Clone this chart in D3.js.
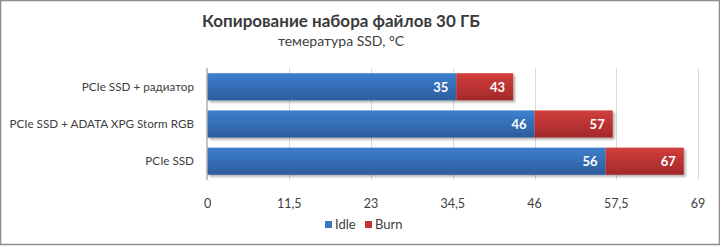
<!DOCTYPE html>
<html>
<head>
<meta charset="utf-8">
<script src="https://cdn.jsdelivr.net/npm/d3@7"></script>
<style>
  body { margin: 0; background: #fff; }
  svg { font-family: Lato, "Open Sans", sans-serif; }
</style>
</head>
<body>
<div id="graph"></div>
<script>
// chart data
var categories = ["PCIe SSD + радиатор", "PCIe SSD + ADATA XPG Storm RGB", "PCIe SSD"];
var idle = [35, 46, 56];
var burn = [43, 57, 67];
var ticks = [0, 11.5, 23, 34.5, 46, 57.5, 69];
var seriesNames = ["Idle", "Burn"];
var title = "Копирование набора файлов 30 ГБ";
var subtitle = "темература SSD, °C";

var width = 720, height = 246;
var pLeft = 207.5, pRight = 698, pTop = 68, pBottom = 180;

var svg = d3.select("#graph").append("svg")
  .attr("width", width)
  .attr("height", height);

var defs = svg.append("defs");
function grad(id, c1, c2) {
  var g = defs.append("linearGradient").attr("id", id)
    .attr("x1", 0).attr("y1", 0).attr("x2", 0).attr("y2", 1);
  g.append("stop").attr("offset", "0%").attr("stop-color", c1);
  g.append("stop").attr("offset", "100%").attr("stop-color", c2);
}
grad("gIdle", "#3d7fcf", "#2c5d9c");
grad("gBurn", "#d23e3c", "#a3292a");
var f = defs.append("filter").attr("id", "shadow")
  .attr("x", "-5%").attr("y", "-20%").attr("width", "115%").attr("height", "160%");
f.append("feDropShadow").attr("dx", 2).attr("dy", 2).attr("stdDeviation", 1.2)
  .attr("flood-color", "#000").attr("flood-opacity", 0.3);

// border
svg.append("rect")
  .attr("x", 0.5).attr("y", 0.5)
  .attr("width", width - 1).attr("height", height - 2)
  .attr("fill", "none").attr("stroke", "#8c8c8c").attr("stroke-width", 1.5);

var x = d3.scaleLinear().domain([0, 69]).range([pLeft, pRight]);
var y = d3.scaleBand().domain(categories).range([pTop, pBottom]).paddingInner(0.27).paddingOuter(0.14);

// grid
svg.append("g").selectAll("line")
  .data(ticks.slice(1))
  .enter().append("line")
  .attr("x1", function(d){ return Math.round(x(d)) + 0.5; })
  .attr("x2", function(d){ return Math.round(x(d)) + 0.5; })
  .attr("y1", pTop).attr("y2", pBottom)
  .attr("stroke", "#d9d9d9");

// tick labels
svg.append("g").selectAll("text")
  .data(ticks)
  .enter().append("text")
  .attr("x", function(d){ return x(d); })
  .attr("y", 208)
  .attr("text-anchor", "middle")
  .style("font-size", "12.5px")
  .attr("fill", "#404040")
  .text(function(d){ return String(d).replace(".", ","); });

// bars
var rows = categories.map(function(c, i){ return {cat: c, idle: idle[i], burn: burn[i]}; });

var bars = svg.append("g").attr("filter", "url(#shadow)");
bars.selectAll("rect.idle")
  .data(rows)
  .enter().append("rect")
  .attr("class", "idle")
  .attr("x", x(0))
  .attr("y", function(d){ return y(d.cat); })
  .attr("width", function(d){ return x(d.idle) - x(0); })
  .attr("height", y.bandwidth())
  .attr("fill", "url(#gIdle)");
bars.selectAll("rect.burn")
  .data(rows)
  .enter().append("rect")
  .attr("class", "burn")
  .attr("x", function(d){ return x(d.idle); })
  .attr("y", function(d){ return y(d.cat); })
  .attr("width", function(d){ return x(d.burn) - x(d.idle); })
  .attr("height", y.bandwidth())
  .attr("fill", "url(#gBurn)");

// axis line
svg.append("line")
  .attr("x1", pLeft - 0.5).attr("x2", pLeft - 0.5)
  .attr("y1", pTop).attr("y2", pBottom)
  .attr("stroke", "#868686");

// value labels
var labels = svg.append("g")
  .style("font-size", "13px").style("font-weight", "bold")
  .attr("fill", "#fff").attr("text-anchor", "end");
labels.selectAll("text.i")
  .data(rows).enter().append("text")
  .attr("x", function(d){ return x(d.idle) - 8; })
  .attr("y", function(d){ return y(d.cat) + y.bandwidth() / 2 + 5; })
  .text(function(d){ return d.idle; });
labels.selectAll("text.b")
  .data(rows).enter().append("text")
  .attr("x", function(d){ return x(d.burn) - 8; })
  .attr("y", function(d){ return y(d.cat) + y.bandwidth() / 2 + 5; })
  .text(function(d){ return d.burn; });

// category labels
svg.append("g").selectAll("text")
  .data(categories)
  .enter().append("text")
  .attr("x", 194)
  .attr("y", function(d){ return y(d) + y.bandwidth() / 2 + 4; })
  .attr("text-anchor", "end")
  .style("font-size", "11.7px")
  .attr("fill", "#404040")
  .text(function(d){ return d; });

// titles
svg.append("text")
  .attr("x", 341).attr("y", 27)
  .attr("text-anchor", "middle")
  .style("font-size", "17px").style("font-weight", "bold")
  .attr("fill", "#3a3a3a")
  .text(title);
svg.append("text")
  .attr("x", 341).attr("y", 46)
  .attr("text-anchor", "middle")
  .style("font-size", "14px")
  .attr("fill", "#404040")
  .text(subtitle);

// legend
var colors = ["#3a77c2", "#c33535"];
var lg = svg.append("g");
var lx = [325, 365];
seriesNames.forEach(function(n, i){
  lg.append("rect")
    .attr("x", lx[i]).attr("y", 221)
    .attr("width", 7).attr("height", 7)
    .attr("fill", colors[i]);
  lg.append("text")
    .attr("x", lx[i] + 10).attr("y", 229)
    .style("font-size", "13px")
    .attr("fill", "#404040")
    .text(n);
});
</script>
</body>
</html>
